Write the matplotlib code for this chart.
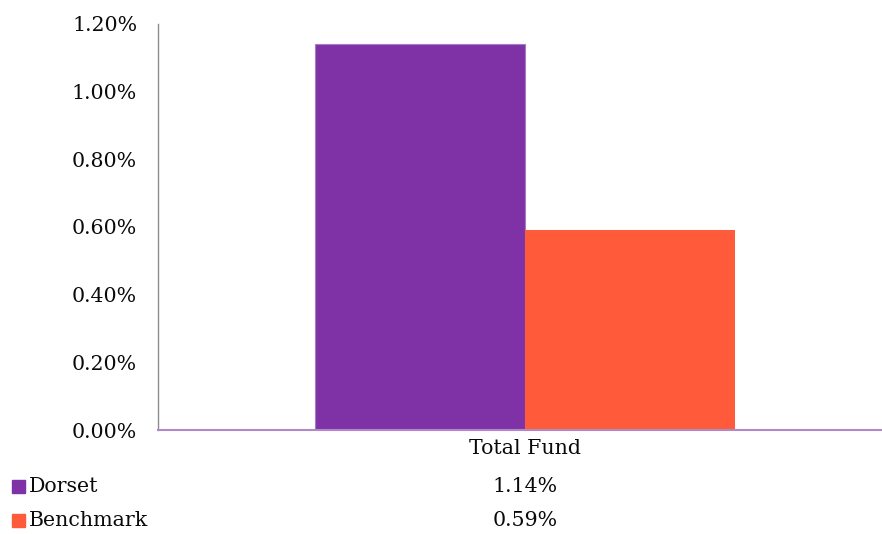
import matplotlib
matplotlib.use("Agg")
import matplotlib.pyplot as plt
from matplotlib.ticker import FuncFormatter

categories = ["Total Fund"]
series_names = ["Dorset", "Benchmark"]
dorset = [1.14]
benchmark = [0.59]
yticks = [0.0, 0.2, 0.4, 0.6, 0.8, 1.0, 1.2]

colors = ["#7F32A5", "#FF5B3A"]
font = ["DejaVu Serif"]
plt.rcParams["font.family"] = font
FS = 14.8
TC = "#0A0A0A"

W, H = 882, 534
fig = plt.figure(figsize=(W / 100, H / 100), dpi=100)
ax = fig.add_axes([158 / W, 1 - 430 / H, 724 / W, (430 - 24) / H])

bw = 210 / 734
x0 = 0
ax.bar(x0 - bw / 2, dorset, width=bw, color=colors[0], edgecolor="#A77BC3", linewidth=0.8)
ax.bar(x0 + bw / 2, benchmark, width=bw, color=colors[1], linewidth=0)

ax.set_xlim(-0.5, 0.5 - 10 / 734)
ax.set_ylim(0, 1.2)
ax.set_yticks(yticks)
ax.yaxis.set_major_formatter(FuncFormatter(lambda v, p: f"{v:.2f}%"))
ax.tick_params(axis="y", length=0, labelsize=FS, pad=15, colors=TC)
ax.set_xticks([])
for s in ["top", "right"]:
    ax.spines[s].set_visible(False)
ax.spines["left"].set_color("#8C8C8C")
ax.spines["left"].set_linewidth(1.0)
ax.spines["bottom"].set_color("#B08AC8")
ax.spines["bottom"].set_linewidth(1.5)

# data table below
xc = 525 / W
fig.text(xc, 1 - 448 / H, categories[0], ha="center", va="center", fontsize=FS, color=TC)
rows = [dorset, benchmark]
ys = [487, 521]
for name, vals, c, y in zip(series_names, rows, colors, ys):
    fig.text(xc, 1 - y / H, f"{vals[0]:.2f}%", ha="center", va="center", fontsize=FS, color=TC)
    fig.patches.append(plt.Rectangle((12 / W, 1 - (y + 6) / H), 13 / W, 13 / H,
                                     transform=fig.transFigure, color=c, figure=fig))
    fig.text(29 / W, 1 - y / H, name, ha="left", va="center", fontsize=FS, color=TC)

fig.savefig("out.png", dpi=100)
